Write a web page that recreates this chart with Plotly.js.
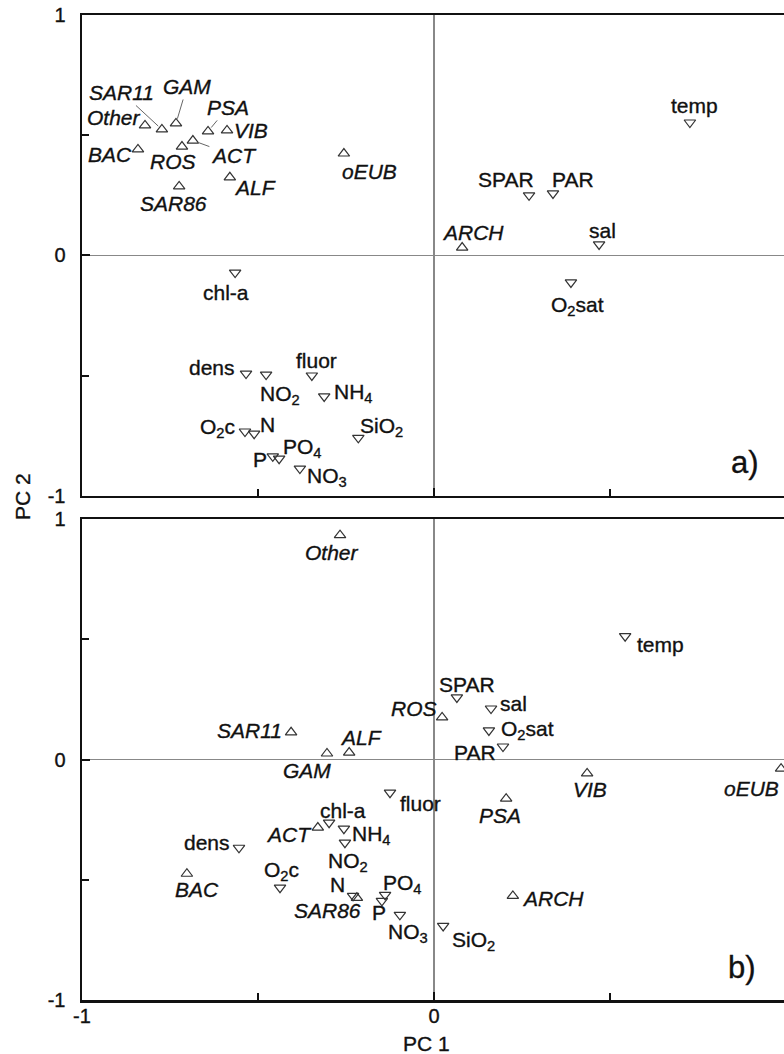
<!DOCTYPE html>
<html>
<head>
<meta charset="utf-8">
<script src="https://cdn.plot.ly/plotly-3.0.1.min.js"></script>
<style>
html,body{margin:0;padding:0;overflow:hidden;background:#fff;}
#chart{width:788px;height:1054px;}
#chart text{stroke:#111;stroke-width:0.35px;}
</style>
</head>
<body>
<div id="chart"></div>
<script>
// ---------- Panel a) data ----------
const bacNamesA = ['Other','SAR11','GAM','PSA','VIB','ACT','ROS','BAC','ALF','SAR86','oEUB','ARCH'];
const bacXA = [-0.821,-0.773,-0.733,-0.642,-0.588,-0.685,-0.716,-0.841,-0.580,-0.724,-0.256,0.080];
const bacYA = [0.541,0.524,0.549,0.516,0.520,0.478,0.453,0.441,0.325,0.287,0.424,0.033];

const envNamesA = ['temp','SPAR','PAR','sal','O<sub>2</sub>sat','chl-a','dens','NO<sub>2</sub>','fluor','NH<sub>4</sub>','O<sub>2</sub>c','N','SiO<sub>2</sub>','P','PO<sub>4</sub>','NO<sub>3</sub>'];
const envXA = [0.727,0.270,0.338,0.469,0.389,-0.565,-0.534,-0.477,-0.347,-0.312,-0.537,-0.511,-0.215,-0.458,-0.440,-0.381];
const envYA = [0.553,0.250,0.258,0.046,-0.112,-0.071,-0.491,-0.495,-0.499,-0.586,-0.732,-0.741,-0.758,-0.835,-0.845,-0.886];

// ---------- Panel b) data ----------
const bacNamesB = ['Other','SAR11','GAM','ALF','ROS','VIB','oEUB','PSA','ARCH','ACT','BAC','SAR86'];
const bacXB = [-0.267,-0.406,-0.304,-0.241,0.023,0.435,0.986,0.205,0.224,-0.330,-0.702,-0.219];
const bacYB = [0.933,0.113,0.025,0.029,0.175,-0.058,-0.038,-0.163,-0.567,-0.283,-0.475,-0.575];

const envNamesB = ['SPAR','sal','O<sub>2</sub>sat','PAR','temp','fluor','SiO<sub>2</sub>','NO<sub>3</sub>','chl-a','NH<sub>4</sub>','NO<sub>2</sub>','dens','O<sub>2</sub>c','N','PO<sub>4</sub>','P'];
const envXB = [0.065,0.162,0.156,0.196,0.543,-0.125,0.026,-0.097,-0.298,-0.256,-0.253,-0.554,-0.4375,-0.230,-0.139,-0.148];
const envYB = [0.258,0.212,0.121,0.054,0.513,-0.138,-0.692,-0.646,-0.2625,-0.2875,-0.346,-0.367,-0.533,-0.567,-0.5625,-0.5875];

const majorTicks = [-1,0,1];
const majorText = ['-1','0','1'];
const minorTicks = [-0.5,0.5];

// ---------- label placement (pixel offsets of label centre from marker: [dx, dyDown]) ----------
const offBacA = {Other:[-31,-8], SAR11:[-40,-37], GAM:[11,-37], PSA:[20,-24], VIB:[24,0], ACT:[41,15], ROS:[-9,15], BAC:[-28,5], ALF:[25,10], SAR86:[-6,17], oEUB:[26,18], ARCH:[11,-15]};
const leaderA = {SAR11:true, GAM:true, PSA:true, ACT:true};
const offEnvA = [[5,-17],[-23,-16],[20,-14],[3,-14],[7,24],[-9,20],[-34,-6],[14,20],[5,-15],[29,-3],[-27,-4],[13,-9],[23,-11],[-13,3],[23,-11],[27,8]];
const offBacB = {Other:[-8,17], SAR11:[-42,-2], GAM:[-20,17], ALF:[12,-15], ROS:[-28,-9], VIB:[3,16], oEUB:[-30,20], PSA:[-6,17], ARCH:[40,3], ACT:[-29,7], BAC:[10,16], SAR86:[-29,13]};
const offEnvB = [[10,-13],[22,-5],[39,0],[-28,6],[35,8],[30,11],[30,15],[8,18],[14,-12],[28,6],[3,19],[-32,-5],[1,-17],[-16,-11],[17,-11],[-3,12]];

const FONT = 'Liberation Sans, Arial, Helvetica, sans-serif';
const LBL = {family: FONT, size: 21, color: '#111'};
const markerUp = {symbol:'triangle-up-open', size:10, color:'#333', line:{width:1.2, color:'#333'}};
const markerDn = {symbol:'triangle-down-open', size:10, color:'#333', line:{width:1.2, color:'#333'}};

const traces = [
  {type:'scatter', mode:'markers', x:bacXA, y:bacYA, xaxis:'x', yaxis:'y', marker:markerUp, hoverinfo:'skip'},
  {type:'scatter', mode:'markers', x:envXA, y:envYA, xaxis:'x', yaxis:'y', marker:markerDn, hoverinfo:'skip'},
  {type:'scatter', mode:'markers', x:bacXB, y:bacYB, xaxis:'x2', yaxis:'y2', marker:markerUp, hoverinfo:'skip'},
  {type:'scatter', mode:'markers', x:envXB, y:envYB, xaxis:'x2', yaxis:'y2', marker:markerDn, hoverinfo:'skip'}
];

const annotations = [];
function addLabels(names, xs, ys, offs, xr, yr, italic, leaders){
  names.forEach((n,i)=>{
    const o = Array.isArray(offs) ? offs[i] : offs[n];
    const txt = italic ? '<i>'+n+'</i>' : n;
    if (leaders && leaders[n]) {
      annotations.push({x:xs[i], y:ys[i], xref:xr, yref:yr, text:txt, showarrow:true,
        ax:o[0], ay:o[1], arrowhead:0, arrowwidth:1, arrowcolor:'#666', standoff:5,
        font:LBL, xanchor:'center', yanchor:'middle'});
    } else {
      annotations.push({x:xs[i], y:ys[i], xref:xr, yref:yr, text:txt, showarrow:false,
        xshift:o[0], yshift:-o[1], font:LBL, xanchor:'center', yanchor:'middle'});
    }
  });
}
addLabels(bacNamesA, bacXA, bacYA, offBacA, 'x', 'y', true, leaderA);
addLabels(envNamesA, envXA, envYA, offEnvA, 'x', 'y', false, null);
addLabels(bacNamesB, bacXB, bacYB, offBacB, 'x2', 'y2', true, null);
addLabels(envNamesB, envXB, envYB, offEnvB, 'x2', 'y2', false, null);

annotations.push({xref:'paper', yref:'paper', x:0.942, y:0.546, text:'a)', showarrow:false, font:{family:FONT, size:31, color:'#111'}, xanchor:'center', yanchor:'middle'});
annotations.push({xref:'paper', yref:'paper', x:0.9375, y:0.0335, text:'b)', showarrow:false, font:{family:FONT, size:31, color:'#111'}, xanchor:'center', yanchor:'middle'});
annotations.push({xref:'paper', yref:'paper', x:0.490, y:-0.0437, text:'PC 1', showarrow:false, font:{family:FONT, size:21, color:'#111'}, xanchor:'center', yanchor:'middle'});
annotations.push({xref:'paper', yref:'paper', x:-0.0838, y:0.5107, text:'PC 2', textangle:-90, showarrow:false, font:{family:FONT, size:21, color:'#111'}, xanchor:'center', yanchor:'middle'});

function axisBase(){
  return {
    range:[-1,1], tickmode:'array', tickvals:majorTicks, ticktext:majorText,
    ticks:'inside', ticklen:8, tickwidth:2, tickcolor:'#111',
    minor:{tickmode:'array', tickvals:minorTicks, ticks:'inside', ticklen:7, tickwidth:2, tickcolor:'#111', showgrid:false},
    showline:true, linewidth:2.5, linecolor:'#111', mirror:true, showgrid:false,
    zeroline:true, zerolinecolor:'#888', zerolinewidth:1.2,
    tickfont:{family:FONT, size:20, color:'#111'}, fixedrange:true
  };
}
const layout = {
  width:788, height:1054,
  margin:{l:82, r:2, t:15, b:54},
  paper_bgcolor:'#fff', plot_bgcolor:'#fff',
  showlegend:false,
  xaxis:Object.assign(axisBase(), {domain:[0,1], anchor:'y', showticklabels:false}),
  yaxis:Object.assign(axisBase(), {domain:[0.5117,1], anchor:'x', ticklabelstandoff:10}),
  xaxis2:Object.assign(axisBase(), {domain:[0,1], anchor:'y2', ticklabelstandoff:-4}),
  yaxis2:Object.assign(axisBase(), {domain:[0,0.4883], anchor:'x2', ticklabelstandoff:10}),
  annotations:annotations
};
Plotly.newPlot('chart', traces, layout, {staticPlot:true, displayModeBar:false});
</script>
</body>
</html>
